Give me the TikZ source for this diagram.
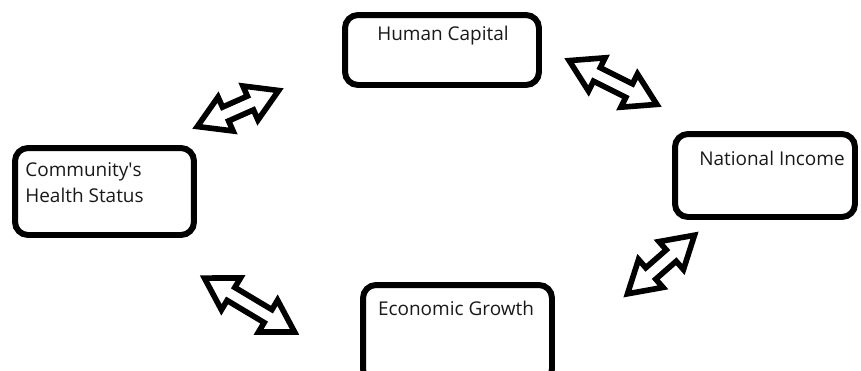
\documentclass[tikz,border=0pt]{standalone}
\usepackage{fontspec}
\setmainfont{Open Sans}
\usetikzlibrary{shapes.arrows}

\begin{document}
\begin{tikzpicture}[x=0.02cm, y=-0.02cm,
    box/.style = {draw, line width=3.4pt, rounded corners=0.26cm, inner sep=0pt},
    txt/.style = {inner sep=0pt, font=\fontsize{10.8}{13}\selectfont, text=black!90},
    link/.style = {draw, double arrow, line width=3.2pt, inner xsep=0pt, inner ysep=0.095cm,
                   double arrow head extend=0.22cm, double arrow tip angle=62, sloped, midway,
                   miter limit=3}]
    \useasboundingbox (0,0) rectangle (861,370);
    \clip (0,0) rectangle (861,370);
    % boxes
    \node[box, minimum width=3.88cm, minimum height=1.4cm] (hc) at (442,50) {};
    \node[box, minimum width=3.58cm, minimum height=1.74cm] (chs) at (104.5,191.5) {};
    \node[box, minimum width=3.6cm, minimum height=1.66cm] (ni) at (765,175.5) {};
    \node[box, minimum width=3.78cm, minimum height=1.94cm] (eg) at (457.5,333.5) {};
    % texts
    \node[txt] (hctext) at (443,36) {Human Capital};
    \node[txt, anchor=west] (chstext1) at (25,172) {Community\textquotesingle s};
    \node[txt, anchor=west] (chstext2) at (25,195) {Health Status};
    \node[txt] (nitext) at (772,158) {National Income};
    \node[txt] (egtext) at (456,308) {Economic Growth};
    % arrow ends
    \coordinate (a1s) at (194,128);
    \coordinate (a1e) at (282,89);
    \coordinate (a2s) at (566,59);
    \coordinate (a2e) at (660,106);
    \coordinate (a3s) at (625,296);
    \coordinate (a3e) at (697,233);
    \coordinate (a4s) at (201,276);
    \coordinate (a4e) at (298,334);
    % arrows
    \path (a1s) -- (a1e) node[link, minimum height=1.78cm] (arr1) {};
    \path (a2s) -- (a2e) node[link, minimum height=1.96cm] (arr2) {};
    \path (a3s) -- (a3e) node[link, minimum height=1.78cm] (arr3) {};
    \path (a4s) -- (a4e) node[link, minimum height=2.1cm] (arr4) {};
\end{tikzpicture}
\end{document}
